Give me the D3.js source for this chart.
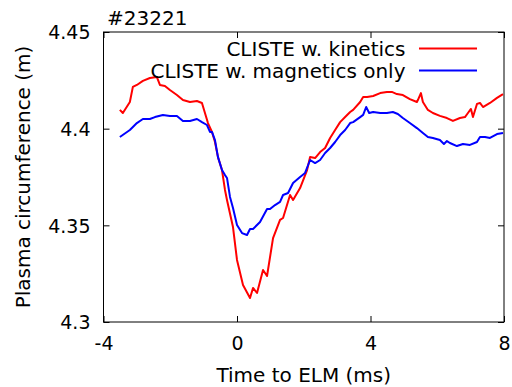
<!DOCTYPE html>
<html>
<head>
<meta charset="utf-8">
<script src="https://cdn.jsdelivr.net/npm/d3@7.9.0/dist/d3.min.js"></script>
<style>
  body { margin: 0; background: #fff; }
  svg { display: block; font-family: "DejaVu Sans", sans-serif; }
  .domain { display: none; }
</style>
</head>
<body>
<svg width="512" height="387"></svg>
<script>
// ---- data ----
const kinTime = [-3.51, -3.42, -3.21, -3.12, -3.0, -2.82, -2.61, -2.4, -2.31, -2.16, -2.01, -1.8, -1.62, -1.41, -1.2, -1.05, -0.87, -0.75, -0.66, -0.57, -0.45, -0.36, -0.3, -0.12, 0.0, 0.18, 0.39, 0.48, 0.6, 0.78, 0.9, 1.08, 1.29, 1.38, 1.59, 1.68, 1.89, 2.1, 2.19, 2.34, 2.49, 2.64, 2.79, 2.94, 3.09, 3.24, 3.39, 3.48, 3.69, 3.78, 3.9, 4.08, 4.29, 4.49, 4.64, 4.79, 4.97, 5.18, 5.39, 5.42, 5.51, 5.57, 5.72, 5.87, 6.08, 6.29, 6.47, 6.68, 6.83, 6.92, 7.01, 7.07, 7.19, 7.28, 7.37, 7.58, 7.79, 7.97];
const kinValues = [4.4097, 4.4081, 4.4138, 4.4216, 4.4226, 4.4247, 4.4262, 4.4267, 4.4226, 4.4221, 4.42, 4.4174, 4.4148, 4.4138, 4.4143, 4.4133, 4.4029, 4.3983, 4.3931, 4.3853, 4.3786, 4.3683, 4.3631, 4.3491, 4.3321, 4.3191, 4.3124, 4.3176, 4.315, 4.3269, 4.3238, 4.3434, 4.3528, 4.3538, 4.3657, 4.3631, 4.3693, 4.3786, 4.3853, 4.3848, 4.3879, 4.39, 4.3952, 4.3993, 4.4034, 4.406, 4.4086, 4.4097, 4.4138, 4.4164, 4.4164, 4.4169, 4.4184, 4.419, 4.419, 4.4179, 4.4174, 4.4153, 4.4138, 4.4148, 4.4184, 4.4138, 4.4097, 4.4081, 4.4066, 4.4055, 4.404, 4.4055, 4.406, 4.4081, 4.4102, 4.406, 4.4128, 4.4133, 4.4112, 4.4133, 4.4159, 4.4179];

const magTime = [-3.51, -3.21, -3.0, -2.82, -2.61, -2.46, -2.22, -2.01, -1.8, -1.62, -1.41, -1.2, -1.05, -0.9, -0.81, -0.75, -0.66, -0.57, -0.45, -0.36, -0.3, -0.21, -0.12, 0.0, 0.15, 0.3, 0.39, 0.48, 0.69, 0.9, 0.99, 1.14, 1.29, 1.38, 1.53, 1.68, 1.89, 2.04, 2.19, 2.34, 2.49, 2.64, 2.79, 2.94, 3.09, 3.24, 3.39, 3.48, 3.69, 3.78, 3.87, 3.96, 4.08, 4.29, 4.49, 4.67, 4.82, 4.97, 5.18, 5.39, 5.57, 5.72, 5.87, 6.08, 6.2, 6.29, 6.38, 6.59, 6.77, 6.98, 7.19, 7.28, 7.43, 7.58, 7.79, 7.97];
const magValues = [4.3957, 4.3993, 4.4029, 4.405, 4.405, 4.406, 4.4071, 4.4066, 4.4066, 4.404, 4.404, 4.405, 4.4034, 4.4019, 4.3983, 4.3983, 4.3941, 4.3853, 4.3786, 4.376, 4.3745, 4.3647, 4.359, 4.3502, 4.346, 4.345, 4.3481, 4.3481, 4.3517, 4.3584, 4.3584, 4.3605, 4.3621, 4.3657, 4.3667, 4.3719, 4.375, 4.3771, 4.3838, 4.3822, 4.3838, 4.3874, 4.39, 4.3931, 4.3967, 4.3993, 4.4029, 4.4034, 4.406, 4.4071, 4.4112, 4.4081, 4.4086, 4.4081, 4.4081, 4.4086, 4.4076, 4.4055, 4.4029, 4.4003, 4.3978, 4.3957, 4.3952, 4.3941, 4.3921, 4.3936, 4.3926, 4.391, 4.3921, 4.3916, 4.3931, 4.3957, 4.3957, 4.3952, 4.3972, 4.3978];

const xTicks = [-4, 0, 4, 8];
const yTicks = [4.3, 4.35, 4.4, 4.45];
const seriesNames = ['CLISTE w. kinetics', 'CLISTE w. magnetics only'];
const seriesColors = ['#ff0000', '#0000ff'];

// ---- layout ----
const margin = { top: 32, right: 8, bottom: 65, left: 103.5 };
const W = 512, H = 387;
const w = W - margin.left - margin.right;
const h = H - margin.top - margin.bottom;
const tickFont = 19;
const labelFont = 20;
const legendFont = 20;

const svg = d3.select('svg');
const g = svg.append('g').attr('transform', `translate(${margin.left},${margin.top})`);

const x = d3.scaleLinear().domain([-4, 8]).range([0, w]);
const y = d3.scaleLinear().domain([4.3, 4.45]).range([h, 0]);

// ---- axes (inward ticks, mirrored) ----
// plain hyphen minus like gnuplot, not the unicode minus d3 uses
const fmtX = (d) => String(d);
const fmtY = (d) => String(+d.toFixed(2));

const bottomAxis = g.append('g')
  .attr('transform', `translate(0,${h})`)
  .call(d3.axisBottom(x).tickValues(xTicks).tickSize(-6).tickPadding(15).tickFormat(fmtX));
const leftAxis = g.append('g')
  .call(d3.axisLeft(y).tickValues(yTicks).tickSize(-6).tickPadding(13).tickFormat(fmtY));
g.append('g')
  .call(d3.axisTop(x).tickValues(xTicks).tickSize(-6).tickFormat(''));
g.append('g')
  .attr('transform', `translate(${w},0)`)
  .call(d3.axisRight(y).tickValues(yTicks).tickSize(-6).tickFormat(''));

g.selectAll('.tick line').attr('stroke', '#000');
[bottomAxis, leftAxis].forEach((a) =>
  a.selectAll('text')
    .attr('font-size', tickFont)
    .attr('font-family', '"DejaVu Sans", sans-serif')
    .attr('fill', '#000')
);
leftAxis.selectAll('text').attr('dy', '0.36em');

// frame
g.append('rect')
  .attr('width', w).attr('height', h)
  .attr('fill', 'none').attr('stroke', '#000').attr('stroke-width', 1);

// ---- lines ----
const line = d3.line()
  .x((d) => x(d[0]))
  .y((d) => y(d[1]));

const series = [
  d3.zip(kinTime, kinValues),
  d3.zip(magTime, magValues)
];

series.forEach((s, i) => {
  g.append('path')
    .datum(s)
    .attr('fill', 'none')
    .attr('stroke', seriesColors[i])
    .attr('stroke-width', 2)
    .attr('stroke-linejoin', 'round')
    .attr('d', line);
});

// ---- legend ----
const legend = g.append('g');
seriesNames.forEach((name, i) => {
  const ly = 16.5 + i * 22;
  legend.append('text')
    .attr('x', 302).attr('y', ly)
    .attr('dy', '0.36em')
    .attr('text-anchor', 'end')
    .attr('font-size', legendFont)
    .text(name);
  legend.append('line')
    .attr('x1', 315.5).attr('x2', 373.5)
    .attr('y1', ly).attr('y2', ly)
    .attr('stroke', seriesColors[i])
    .attr('stroke-width', 2);
});

// ---- titles ----
svg.append('text')
  .attr('x', 107).attr('y', 25)
  .attr('font-size', labelFont)
  .text('#23221');

svg.append('text')
  .attr('x', margin.left + w / 2).attr('y', 382)
  .attr('text-anchor', 'middle')
  .attr('font-size', labelFont)
  .text('Time to ELM (ms)');

svg.append('text')
  .attr('transform', 'translate(30,177) rotate(-90)')
  .attr('text-anchor', 'middle')
  .attr('font-size', labelFont)
  .text('Plasma circumference (m)');
</script>
</body>
</html>
